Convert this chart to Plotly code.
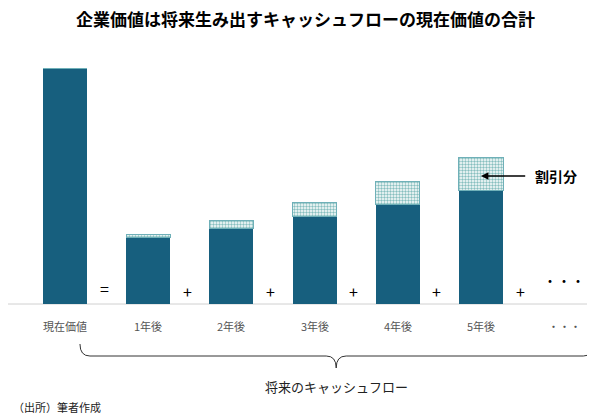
import plotly.graph_objects as go

categories = ["現在価値", "1年後", "2年後", "3年後", "4年後", "5年後", "・・・"]
present_value = [236, 67, 76, 88, 100, 114]
discount = [0, 3, 8, 14, 23, 33]
operators = ["=", "+", "+", "+", "+", "+"]

TEAL = "#175f7e"
xs = list(range(len(present_value)))
fig = go.Figure()
fig.add_bar(x=xs, y=present_value, marker=dict(color=TEAL, line_width=0), width=0.53)
fig.add_bar(x=xs, y=discount, width=0.53,
            marker=dict(color="white", line=dict(color="#6fb0b8", width=1),
                        pattern=dict(shape=".", fgcolor="#0f7f80", size=3, solidity=0.5)))

ann = []
for i, c in enumerate(categories):
    ann.append(dict(x=i, y=-22, text=c, showarrow=False, font=dict(size=11, color="#555")))
for i, op in enumerate(operators):
    ann.append(dict(x=i + 0.47, y=16 if i == 0 else 13, text=op, showarrow=False,
                    font=dict(size=16, color="black")))
ann.append(dict(x=6, y=24, text="・・・", showarrow=False, font=dict(size=14, color="black")))
ann.append(dict(x=5, y=128, ax=5.55, ay=128, axref="x", ayref="y", text="", showarrow=True,
                arrowhead=2, arrowsize=1, arrowwidth=1.5, arrowcolor="black"))
ann.append(dict(x=5.62, y=128, text="<b>割引分</b>", showarrow=False, xanchor="left",
                font=dict(size=14, color="black")))
ann.append(dict(x=3.26, y=-82, text="将来のキャッシュフロー", showarrow=False,
                font=dict(size=13, color="#222")))
ann.append(dict(x=0.005, xref="paper", y=-103, yanchor="middle", xanchor="left",
                text="（出所）筆者作成", showarrow=False, font=dict(size=11, color="#222")))

x0, xm, x1 = 0.18, 3.26, 6.35
path = (f"M {x0},-40 Q {x0},-52 {x0+0.12},-52 L {xm-0.12},-52 Q {xm},-52 {xm},-64 "
        f"Q {xm},-52 {xm+0.12},-52 L {x1-0.12},-52 Q {x1},-52 {x1},-40")
fig.add_shape(type="path", path=path, xref="x", yref="y", line=dict(color="#333", width=1))
fig.add_shape(type="line", x0=0, x1=1, xref="paper", y0=0, y1=0, yref="y",
              line=dict(color="#d0d0d0", width=1), layer="below")

fig.update_layout(
    width=595, height=419, barmode="stack", showlegend=False,
    plot_bgcolor="white", paper_bgcolor="white",
    margin=dict(l=0, r=0, t=50, b=5, autoexpand=False),
    font=dict(family="Noto Sans CJK JP"),
    title=dict(text="<b>企業価値は将来生み出すキャッシュフローの現在価値の合計</b>",
               x=0.5, xanchor="center", y=0.985, yanchor="top", font=dict(size=17, color="black")),
    xaxis=dict(range=[-0.685, 6.467], showticklabels=False, showgrid=False, zeroline=False,
               showline=False, fixedrange=True),
    yaxis=dict(range=[-118, 246], visible=False),
    annotations=ann,
)
fig.write_html("out.html")
